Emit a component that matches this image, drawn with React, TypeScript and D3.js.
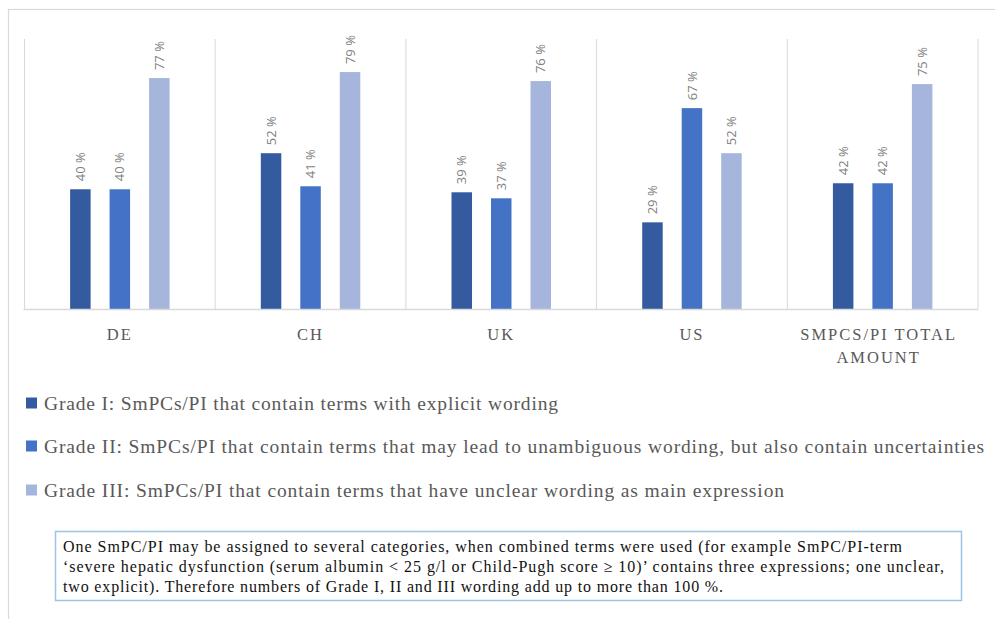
import React from "react";
import * as d3 from "d3";

const categories = ["DE", "CH", "UK", "US", "SMPCS/PI TOTAL AMOUNT"];
const categoryLines = [["DE"], ["CH"], ["UK"], ["US"], ["SMPCS/PI TOTAL", "AMOUNT"]];
const seriesNames = [
  "Grade I: SmPCs/PI that contain terms with explicit wording",
  "Grade II: SmPCs/PI that contain terms that may lead to unambiguous wording, but also contain uncertainties",
  "Grade III: SmPCs/PI that contain terms that have unclear wording as main expression",
];
const gradeI = [40, 52, 39, 29, 42];
const gradeII = [40, 41, 37, 67, 42];
const gradeIII = [77, 79, 76, 52, 75];
const seriesValues = [gradeI, gradeII, gradeIII];
const colors = ["#345A9F", "#4473C5", "#A6B5DB"];
const noteLines = [
  "One SmPC/PI may be assigned to several categories, when combined terms were used (for example SmPC/PI-term",
  "\u2018severe hepatic dysfunction (serum albumin < 25 g/l or Child-Pugh score \u2265 10)\u2019 contains three expressions; one unclear,",
  "two explicit). Therefore numbers of Grade I, II and III wording add up to more than 100 %.",
];
const legendWidths = [514, 940, 740];
const noteWidths = [839, 881, 660];

export default function App() {
  const W = 995, H = 619;
  const left = 24.5, right = 978, top = 39, base = 309.5;
  const x = d3.scaleBand<string>().domain(categories).range([left, right]).padding(0);
  const bw = x.bandwidth();
  const inner = d3
    .scaleBand<number>()
    .domain([0, 1, 2])
    .range([0, bw])
    .paddingInner(0.481)
    .paddingOuter(1.155);
  const y = d3.scaleLinear().domain([0, 90]).range([base, top]);
  const serif = "'Liberation Serif', 'Times New Roman', serif";
  const legendY = [403, 446, 490];

  return (
    <svg
      width={W}
      height={H}
      style={{ position: "absolute", left: 0, top: 0, display: "block", background: "#fff" }}
    >
      <rect x={8.5} y={9.5} width={W + 10} height={H + 10} fill="#fff" stroke="#d9d9d9" strokeWidth={1.2} />
      {[...categories.map((c) => x(c) as number), right].map((gx, i) => (
        <line key={"g" + i} x1={gx} x2={gx} y1={top} y2={base} stroke="#d9d9d9" strokeWidth={1} />
      ))}
      {categories.map((c, ci) =>
        seriesValues.map((vals, si) => {
          const bx = (x(c) as number) + (inner(si) as number);
          const v = vals[ci];
          return (
            <rect
              key={c + si}
              x={bx}
              y={y(v)}
              width={inner.bandwidth()}
              height={base - y(v)}
              fill={colors[si]}
            />
          );
        })
      )}
      <line x1={left - 1} x2={right} y1={base} y2={base} stroke="#d9d9d9" strokeWidth={1.5} />
      {categories.map((c, ci) =>
        seriesValues.map((vals, si) => {
          const cx = (x(c) as number) + (inner(si) as number) + inner.bandwidth() / 2;
          const ty = y(vals[ci]) - 8;
          return (
            <text
              key={"l" + c + si}
              transform={`translate(${cx},${ty}) rotate(-90)`}
              dy="0.35em"
              fontFamily="'Open Sans', 'Liberation Sans', sans-serif"
              fontSize={13}
              fill="#7f7f7f"
            >
              {vals[ci]} %
            </text>
          );
        })
      )}
      {categories.map((c, ci) =>
        categoryLines[ci].map((ln, li) => (
          <text
            key={"c" + ci + li}
            x={(x(c) as number) + bw / 2 - (categoryLines[ci].length > 1 ? 4 : 0)}
            y={334 + li * 23}
            dy="0.35em"
            textAnchor="middle"
            fontFamily={serif}
            fontSize={16.5}
            letterSpacing={2}
            fill="#595959"
          >
            {ln}
          </text>
        ))
      )}
      {seriesNames.map((n, i) => (
        <g key={"lg" + i}>
          <rect x={26} y={legendY[i] - 5.5} width={11} height={11} fill={colors[i]} />
          <text
            x={44}
            y={legendY[i]}
            dy="0.35em"
            fontFamily={serif}
            fontSize={19.5}
            fill="#595959"
            textLength={legendWidths[i]}
            lengthAdjust="spacing"
          >
            {n}
          </text>
        </g>
      ))}
      <rect x={55.5} y={531.5} width={906} height={69} fill="#fff" stroke="#9DC3E6" strokeWidth={1.5} />
      {noteLines.map((ln, i) => (
        <text
          key={"n" + i}
          x={63}
          y={546 + i * 20}
          dy="0.35em"
          fontFamily={serif}
          fontSize={16}
          fill="#111"
          textLength={noteWidths[i]}
          lengthAdjust="spacing"
        >
          {ln}
        </text>
      ))}
    </svg>
  );
}
